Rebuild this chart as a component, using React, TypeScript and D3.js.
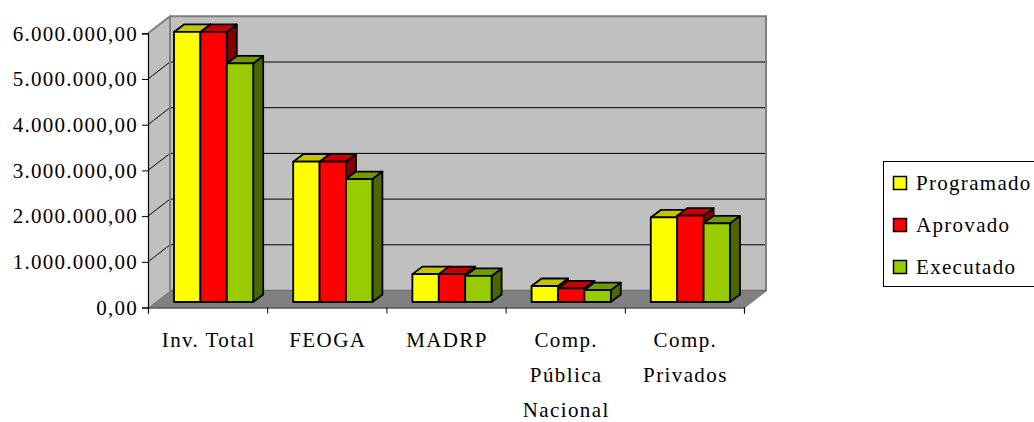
import { useRef, useEffect } from "react";
import * as d3 from "d3";

const categories = [["Inv. Total"], ["FEOGA"], ["MADRP"], ["Comp.", "Pública", "Nacional"], ["Comp.", "Privados"]];
const seriesNames = ["Programado", "Aprovado", "Executado"];
const programado = [5910000, 3070000, 610000, 350000, 1850000];
const aprovado = [5910000, 3070000, 610000, 300000, 1890000];
const executado = [5220000, 2690000, 570000, 260000, 1720000];
const yTicks = [0, 1000000, 2000000, 3000000, 4000000, 5000000, 6000000];

const FRONT = ["#ffff00", "#ff0000", "#99cc00"];
const TOP = ["#c4c400", "#c40000", "#739900"];
const SIDE = ["#808000", "#800000", "#4d6600"];
const FONT = "'Liberation Serif', serif";

const ptBR = d3.formatLocale({ decimal: ",", thousands: ".", grouping: [3], currency: ["", ""] });

export default function App() {
  const svgRef = useRef<SVGSVGElement>(null);

  useEffect(() => {
    if (!svgRef.current) return;
    const svg = d3.select(svgRef.current);
    svg.selectAll("*").remove();

    const values = [programado, aprovado, executado];
    const x = d3.scaleLinear().domain([0, categories.length]).range([148, 744]);
    const y = d3.scaleLinear().domain([0, 6000000]).range([307.5, 33.3]);
    const depth = { dx: 22, dy: -17 };
    const barDepth = { dx: 10, dy: -7.5 };
    const barBase = { dx: 6, dy: -5.5 };
    const poly = (pts: number[][]) => pts.map((p) => p.join(",")).join(" ");

    // Walls and floor
    const x0 = x(0);
    const x1 = x(categories.length);
    const y0 = y(0);
    const yT = y(6000000);
    svg.append("polygon")
      .attr("points", poly([[x0 + depth.dx, y0 + depth.dy], [x1 + depth.dx, y0 + depth.dy], [x1 + depth.dx, yT + depth.dy], [x0 + depth.dx, yT + depth.dy]]))
      .attr("fill", "#c0c0c0");
    svg.append("polygon")
      .attr("points", poly([[x0, y0], [x0 + depth.dx, y0 + depth.dy], [x0 + depth.dx, yT + depth.dy], [x0, yT]]))
      .attr("fill", "#c0c0c0");
    svg.append("polygon")
      .attr("points", poly([[x0, y0], [x1, y0], [x1 + depth.dx, y0 + depth.dy], [x0 + depth.dx, y0 + depth.dy]]))
      .attr("fill", "#808080");

    // Gridlines, running along the left wall then the back wall
    yTicks.slice(1, -1).forEach((t) => {
      svg.append("polyline")
        .attr("points", poly([[x0, y(t)], [x0 + depth.dx, y(t) + depth.dy], [x1 + depth.dx, y(t) + depth.dy]]))
        .attr("fill", "none")
        .attr("stroke", "#000")
        .attr("stroke-width", 1);
    });

    // Wall edges
    svg.append("polyline")
      .attr("points", poly([[x0, yT], [x0 + depth.dx, yT + depth.dy], [x0 + depth.dx, y0 + depth.dy]]))
      .attr("fill", "none")
      .attr("stroke", "#808080")
      .attr("stroke-width", 2);
    svg.append("polyline")
      .attr("points", poly([[x0 + depth.dx, yT + depth.dy], [x1 + depth.dx, yT + depth.dy], [x1 + depth.dx, y0 + depth.dy], [x1, y0]]))
      .attr("fill", "none")
      .attr("stroke", "#808080")
      .attr("stroke-width", 2);
    svg.append("line")
      .attr("x1", x0 + depth.dx).attr("x2", x1 + depth.dx)
      .attr("y1", y0 + depth.dy).attr("y2", y0 + depth.dy)
      .attr("stroke", "#707070")
      .attr("stroke-width", 1.5);

    // Bars
    const barW = 26.4;
    categories.forEach((_, c) => {
      const center = (x(c) + x(c + 1)) / 2 + barBase.dx;
      values.forEach((series, s) => {
        const left = center + (s - 1.5) * barW;
        const right = left + barW;
        const bottom = y0 + barBase.dy;
        const top = y(series[c]) + barBase.dy;
        const g = svg.append("g").attr("stroke", "#000").attr("stroke-width", 1.8).attr("stroke-linejoin", "round");
        g.append("polygon")
          .attr("points", poly([[right, bottom], [right + barDepth.dx, bottom + barDepth.dy], [right + barDepth.dx, top + barDepth.dy], [right, top]]))
          .attr("fill", SIDE[s]);
        g.append("polygon")
          .attr("points", poly([[left, top], [right, top], [right + barDepth.dx, top + barDepth.dy], [left + barDepth.dx, top + barDepth.dy]]))
          .attr("fill", TOP[s]);
        g.append("rect")
          .attr("x", left).attr("y", top)
          .attr("width", barW).attr("height", bottom - top)
          .attr("fill", FRONT[s]);
      });
    });

    // Axes
    const axisY = svg.append("g")
      .attr("transform", `translate(${x0},0)`)
      .call(d3.axisLeft(y).tickValues(yTicks).tickSize(6).tickPadding(4).tickFormat((d) => ptBR.format(",.2f")(d as number)));
    const axisX = svg.append("g")
      .attr("transform", `translate(0,${y0})`)
      .call(d3.axisBottom(x).ticks(categories.length).tickSize(6).tickFormat(() => ""));
    svg.selectAll(".domain").attr("stroke", "#000").attr("stroke-width", 1.2);
    svg.selectAll(".tick line").attr("stroke", "#000");
    axisY.selectAll("text")
      .attr("fill", "#000")
      .attr("font-family", FONT)
      .attr("font-size", 21)
      .attr("letter-spacing", 1.25);
    axisX.selectAll("text").remove();

    // Category labels
    categories.forEach((lines, c) => {
      lines.forEach((line, i) => {
        svg.append("text")
          .attr("x", (x(c) + x(c + 1)) / 2 + 1)
          .attr("y", 347 + i * 35)
          .attr("text-anchor", "middle")
          .attr("font-family", FONT)
          .attr("font-size", 21)
          .attr("letter-spacing", 1.4)
          .attr("fill", "#000")
          .text(line);
      });
    });

    // Legend
    svg.append("rect")
      .attr("x", 883.5).attr("y", 161.5)
      .attr("width", 170).attr("height", 125)
      .attr("fill", "#fff")
      .attr("stroke", "#000");
    seriesNames.forEach((name, s) => {
      const cy = 183 + s * 42;
      svg.append("rect")
        .attr("x", 893.5).attr("y", cy - 6.5)
        .attr("width", 13).attr("height", 13)
        .attr("fill", FRONT[s])
        .attr("stroke", "#000")
        .attr("stroke-width", 1.5);
      svg.append("text")
        .attr("x", 916).attr("y", cy + 7)
        .attr("font-family", FONT)
        .attr("font-size", 21)
        .attr("letter-spacing", 1.3)
        .attr("fill", "#000")
        .text(name);
    });
  }, []);

  return <svg ref={svgRef} width={1034} height={422} style={{ position: "absolute", left: 0, top: 0 }} />;
}
